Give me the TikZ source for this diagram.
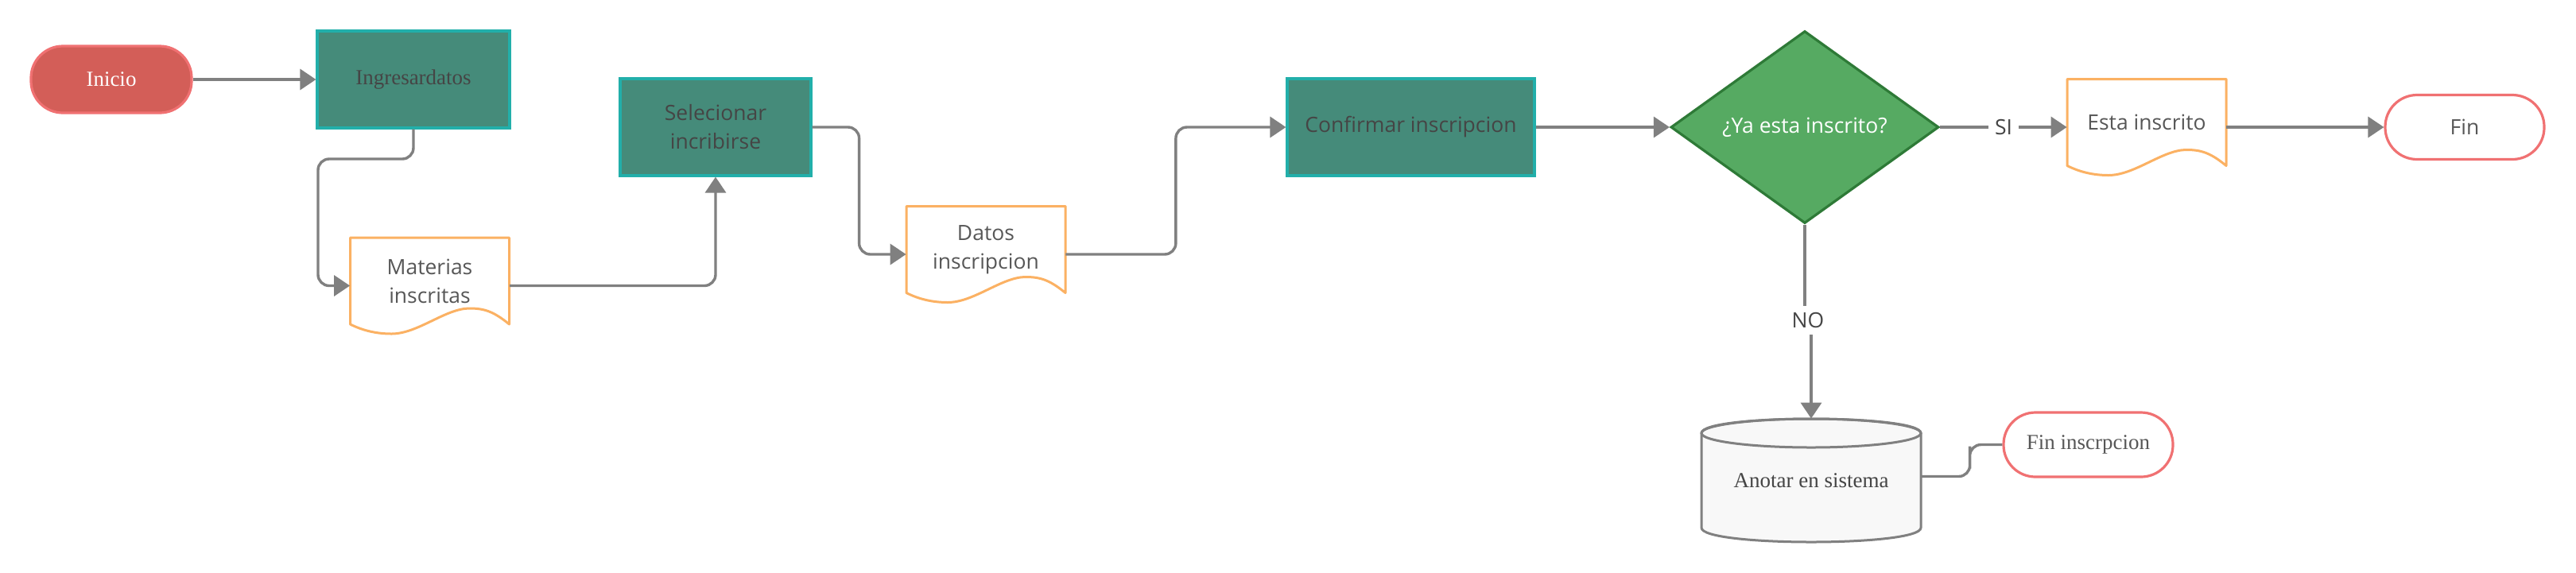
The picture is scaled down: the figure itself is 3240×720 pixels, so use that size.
\documentclass[tikz,border=0pt]{standalone}
\usepackage{fontspec}
\setmainfont{Open Sans}
\newfontfamily\serifft{Liberation Serif}
\usetikzlibrary{arrows.meta,shapes.geometric,calc}
\pgfdeclarelayer{bg}
\pgfsetlayers{bg,main}
\definecolor{connc}{HTML}{808080}
\definecolor{inifill}{HTML}{D35E58}
\definecolor{termline}{HTML}{F07172}
\definecolor{procfill}{HTML}{458B7A}
\definecolor{procline}{HTML}{22AFAA}
\definecolor{proctext}{HTML}{454545}
\definecolor{docline}{HTML}{FBB163}
\definecolor{doctext}{HTML}{575757}
\definecolor{dfill}{HTML}{56AA62}
\definecolor{dline}{HTML}{2E7A37}
\definecolor{cylfill}{HTML}{F8F8F8}
\newcommand\mysans{\fontsize{13.25pt}{18pt}\selectfont}
\newcommand\myserif{\serifft\fontsize{13.5pt}{18pt}\selectfont}
\tikzset{
  base/.style={font=\mysans, inner sep=0pt, align=center},
  proc/.style={base, draw=procline, fill=procfill, line width=1.6pt, text=proctext, minimum height=61pt},
  term/.style={base, rounded corners=20pt, line width=1.6pt, draw=termline, minimum height=41pt, text=doctext},
  docnode/.style={base, minimum width=100pt, minimum height=54.5pt, text=doctext},
  docst/.style={draw=docline, line width=1.5pt, line join=round},
  conn/.style={draw=connc, line width=1.7pt, rounded corners=7pt},
  arr/.style={conn, -{Triangle[length=10pt,width=13pt]}},
  lbl/.style={font=\mysans, text=proctext, inner sep=4pt, fill=white},
}
\newcommand\docshape[1]{%
  \draw[docst, shift={(#1.center)}] (-100,-54.5) -- (100,-54.5) -- (100,54.5)
    .. controls (80,38) and (68,34.5) .. (50,34.5)
    .. controls (20,34.5) and (-15,66.5) .. (-48,66.5)
    .. controls (-68,66.5) and (-85,62) .. (-100,54.5) -- cycle;}
\begin{document}
\begin{tikzpicture}[x=0.5pt,y=-0.5pt]
\useasboundingbox (0,0) rectangle (3240,720);

% nodes
\node[term, fill=inifill, text=white, font=\myserif, minimum width=101pt, minimum height=42pt] (ini) at (140,100) {Inicio};
\node[proc, font=\myserif, minimum width=121pt] (ing) at (520,100) {Ingresardatos};
\node[docnode] (mat) at (540.5,353.5) {Materias\\inscritas};
\node[proc, minimum width=120pt] (sel) at (900,160) {Selecionar\\incribirse};
\node[docnode] (dat) at (1240,314) {Datos\\inscripcion};
\node[proc, minimum width=155.5pt] (conf) at (1774.5,160) {Confirmar inscripcion};
\node[base, diamond, draw=dline, fill=dfill, line width=1.6pt, text=white, aspect=1.39, minimum width=168.5pt, minimum height=121pt] (d) at (2270,160) {¿Ya esta inscrito?};
\node[docnode] (esta) at (2700,154) {Esta inscrito};
\node[term, fill=white, minimum width=100pt, minimum height=40.5pt] (fin) at (3100,160) {Fin};
\node[base, font=\myserif, text=proctext, minimum width=138pt, minimum height=77.5pt] (cyl) at (2278,604.5) {Anotar en sistema};
\node[term, fill=white, font=\myserif, minimum width=106.5pt, minimum height=40.5pt] (fi) at (2626.5,559.5) {Fin inscrpcion};
\node[lbl] (si) at (2520,160) {SI};
\node[lbl] (no) at (2274,403) {NO};

% background shapes
\begin{pgfonlayer}{bg}
\fill[white] (0,0) rectangle (3240,720);
\docshape{mat}
\docshape{dat}
\docshape{esta}
\filldraw[draw=connc, fill=cylfill, line width=1.5pt, shift={(cyl.center)}]
  (-138,-59.5) -- (-138,59.5) .. controls (-138,83.5) and (138,83.5) .. (138,59.5)
  -- (138,-59.5) .. controls (138,-83.5) and (-138,-83.5) .. (-138,-59.5) -- cycle;
\draw[draw=connc, line width=1.5pt, shift={(cyl.center)}] (0,-59.5) ellipse [x radius=138, y radius=18];
\end{pgfonlayer}

% connectors
\draw[arr] (ini.east) -- (ing.west);
\draw[arr] (ing.south) |- (400,200) |- ([yshift=-3pt]mat.west);
\draw[arr] ([yshift=-3pt]mat.east) -| (sel.south);
\draw[arr] (sel.east) -| ($(sel.east)!.5!([yshift=-3pt]dat.west)$) |- ([yshift=-3pt]dat.west);
\draw[arr] ([yshift=-3pt]dat.east) -| ($([yshift=-3pt]dat.east)!.5!(conf.west)$) |- (conf.west);
\draw[arr] (conf.east) -- (d.west);
\draw[conn] (d.east) -- (si.west);
\draw[arr] (si.east) -- ([yshift=-3pt]esta.west);
\draw[arr] ([yshift=-3pt]esta.east) -- (fin.west);
\draw[conn] (d.south) -- (d.south |- no.north);
\draw[arr] (cyl.north |- no.south) -- (cyl.north);
\draw[conn] ([yshift=2.5pt]cyl.east) -| ($([yshift=2.5pt]cyl.east)!.6!(fi.west)$) |- (fi.west);
\end{tikzpicture}
\end{document}
